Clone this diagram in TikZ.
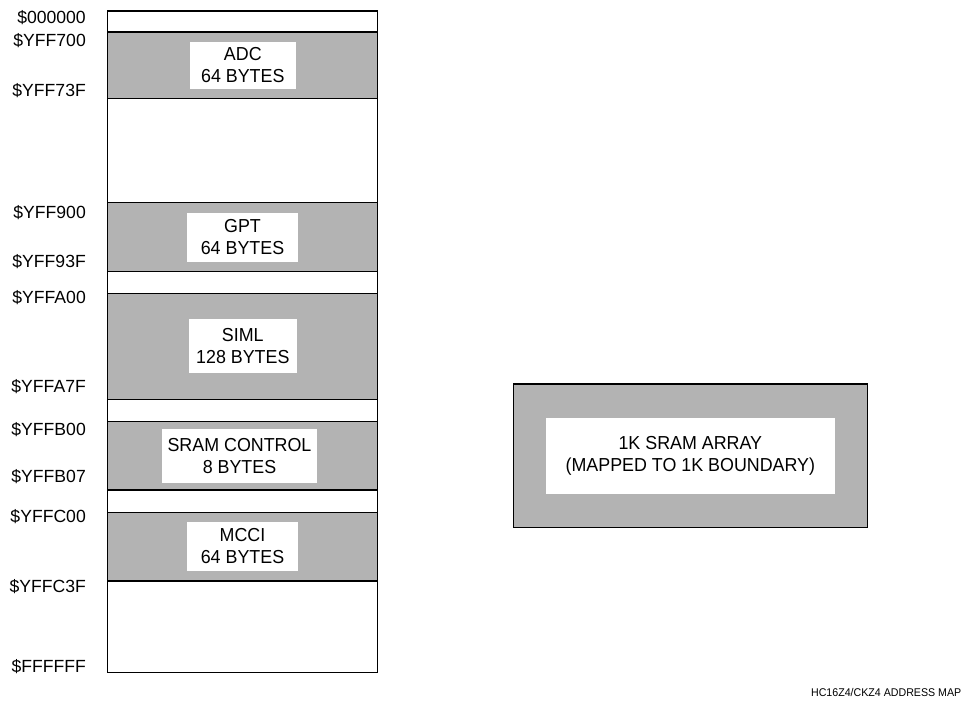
\documentclass[tikz,border=0pt]{standalone}
\usepackage{fontspec}
\setmainfont{Liberation Sans}
\newfontfamily\narrowfont[FakeStretch=0.95]{Liberation Sans}
\definecolor{memgray}{RGB}{179,179,179}
\begin{document}
\begin{tikzpicture}[x=1pt,y=-1pt,
  column/.style={draw, line width=1.2pt, fill=white, rectangle, inner sep=0, outer sep=0, anchor=north west},
  block/.style={draw, line width=1.2pt, fill=memgray, rectangle, inner sep=0, outer sep=0, anchor=north west, minimum width=270},
  tag/.style={fill=white, inner sep=0, outer sep=0, align=center, font=\narrowfont\fontsize{18.8}{22}\selectfont},
  addr/.style={anchor=base east, inner sep=0, font=\fontsize{17.6}{20}\selectfont},
  caption/.style={anchor=base east, inner sep=0, font=\narrowfont\fontsize{11.2}{12}\selectfont}]
\useasboundingbox (0,0) rectangle (963,704);

% memory column
\node[column, minimum width=270, minimum height=661.7] (col) at (107.7,11) {};

% blocks
\node[block, minimum height=66.3] (adc) at (107.7,32) {};
\node[block, minimum height=69] (gpt) at (107.7,202.7) {};
\node[block, minimum height=106] (siml) at (107.7,293.3) {};
\node[block, minimum height=68.3] (sram) at (107.7,421.7) {};
\node[block, minimum height=68.7] (mcci) at (107.7,512.3) {};

% block labels
\node[tag, minimum width=105.7, minimum height=47] (adct) at (242.8,65.2) {ADC\\64 BYTES};
\node[tag, minimum width=110.4, minimum height=49] (gptt) at (242.5,237.2) {GPT\\64 BYTES};
\node[tag, minimum width=107.7, minimum height=54] (simlt) at (242.8,346.3) {SIML\\128 BYTES};
\node[tag, minimum width=154.4, minimum height=53.7] (sramt) at (239.5,455.8) {SRAM CONTROL\\8 BYTES};
\node[tag, minimum width=110.4, minimum height=49.3] (mccit) at (242.5,546.3) {MCCI\\64 BYTES};

% addresses
\node[addr] (a0) at (86,23.3) {\$000000};
\node[addr] (a1) at (86,46.7) {\$YFF700};
\node[addr] (a2) at (86,96.7) {\$YFF73F};
\node[addr] (a3) at (86,218) {\$YFF900};
\node[addr] (a4) at (86,267.3) {\$YFF93F};
\node[addr] (a5) at (86,303) {\$YFFA00};
\node[addr] (a6) at (86,392) {\$YFFA7F};
\node[addr] (a7) at (86,435) {\$YFFB00};
\node[addr] (a8) at (86,482.7) {\$YFFB07};
\node[addr] (a9) at (86,522.7) {\$YFFC00};
\node[addr] (a10) at (86,592) {\$YFFC3F};
\node[addr] (a11) at (86,672.7) {\$FFFFFF};

% SRAM array
\node[block, minimum width=354.4, minimum height=143.7] (arr) at (513.3,384) {};
\node[tag, minimum width=289.3, minimum height=75.7] (arrt) at (690.35,456.15) {1K SRAM ARRAY\\(MAPPED TO 1K BOUNDARY)};

% caption
\node[caption] (cap) at (961.5,696) {HC16Z4/CKZ4 ADDRESS MAP};
\end{tikzpicture}
\end{document}
